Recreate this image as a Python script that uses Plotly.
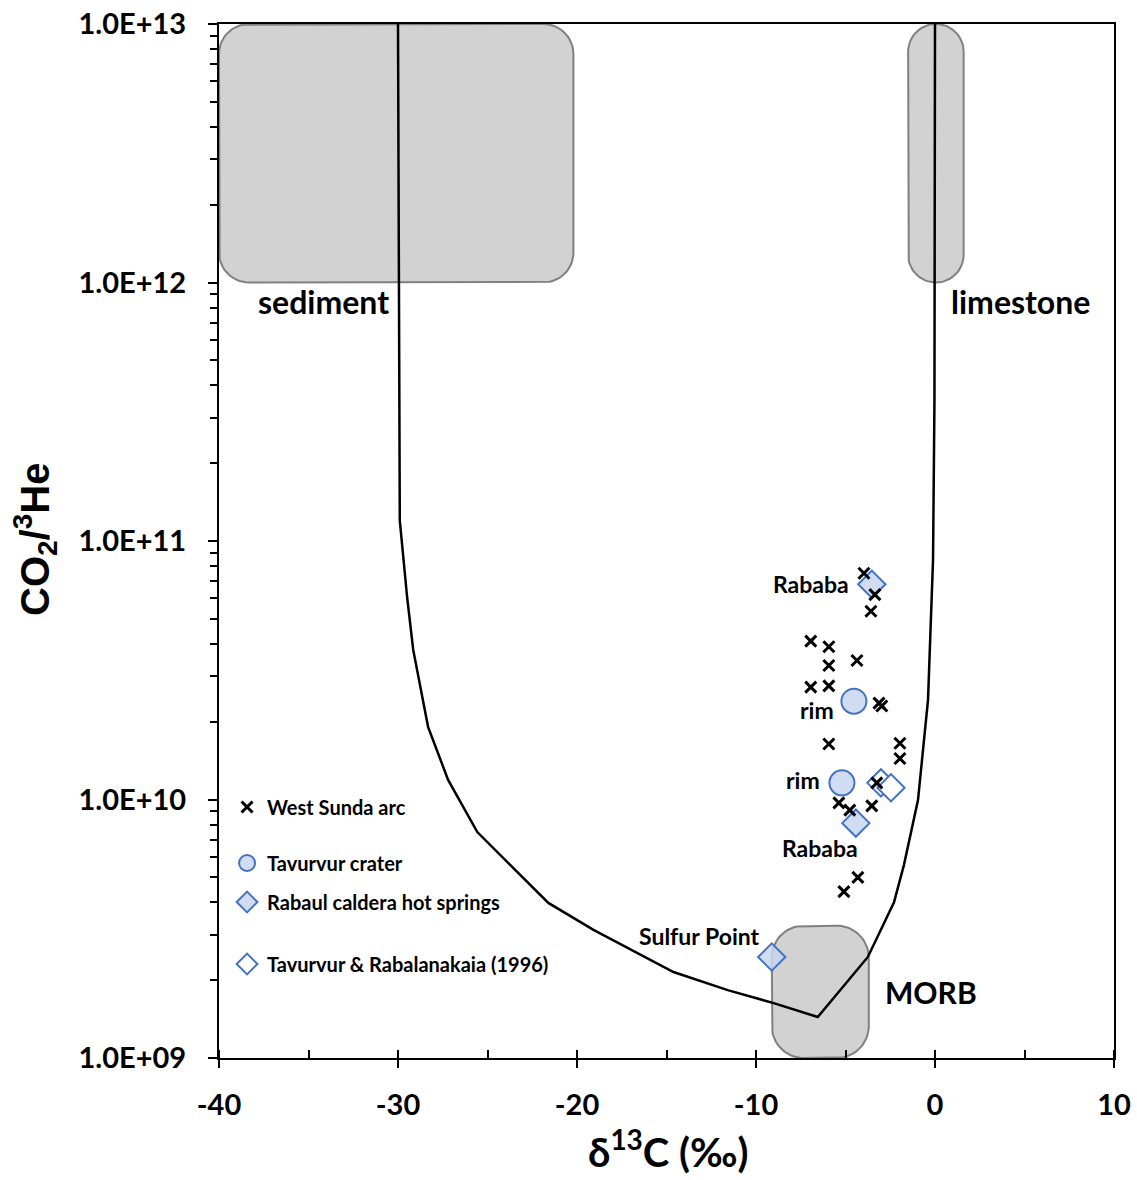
import numpy as np
import plotly.graph_objects as go

# ---------------- data ----------------
west_sunda_d13C = [-3.97, -3.36, -3.58, -6.94, -5.93, -5.93, -4.36, -6.94, -5.93, -3.13,
                   -2.97, -5.93, -1.96, -1.96, -3.25, -5.37, -4.76, -3.53, -4.31, -5.09]
west_sunda_co2he = [7.5e10, 6.2e10, 5.35e10, 4.1e10, 3.9e10, 3.3e10, 3.45e10, 2.72e10, 2.75e10, 2.36e10,
                    2.3e10, 1.64e10, 1.65e10, 1.44e10, 1.16e10, 9.7e9, 9.1e9, 9.45e9, 5.0e9, 4.4e9]

tavurvur_d13C = [-4.53, -5.20]
tavurvur_co2he = [2.4e10, 1.16e10]

hotspring_d13C = [-3.53, -4.42, -9.12]
hotspring_co2he = [6.8e10, 8.1e9, 2.46e9]

old1996_d13C = [-3.02, -2.46]
old1996_co2he = [1.16e10, 1.11e10]

mixing_d13C = [-30.0, -29.9, -29.49, -29.15, -28.32, -27.2, -25.57, -21.6, -19.08, -17.18, -14.61,
               -11.58, -9.01, -6.55, -3.75, -2.29, -1.73, -0.95, -0.39, -0.11, -0.03, 0.0]
mixing_co2he = [1e13, 1.2e11, 6.07e10, 3.79e10, 1.91e10, 1.19e10, 7.48e9, 3.98e9, 3.13e9, 2.67e9, 2.15e9,
                1.83e9, 1.63e9, 1.44e9, 2.46e9, 4.0e9, 5.6e9, 9.95e9, 2.43e10, 8.45e10, 3.5e11, 1e13]

# end-member fields: [d13C min, d13C max, CO2/3He min, CO2/3He max]
sediment_field = [-40.0, -20.2, 1e12, 1e13]
limestone_field = [-1.5, 1.6, 1e12, 1e13]
morb_field = [-9.12, -3.7, 1e9, 3.25e9]

x_tick_vals = [-40, -30, -20, -10, 0, 10]
x_tick_text = ["-40", "-30", "-20", "-10", "0", "10"]
y_tick_vals = [1e9, 1e10, 1e11, 1e12, 1e13]
y_tick_text = ["1.0E+09", "1.0E+10", "1.0E+11", "1.0E+12", "1.0E+13"]

# ---------------- layout constants ----------------
W, H = 1137, 1180
ML, MR, MT, MB = 219, 23, 24, 122
PW, PH = W - ML - MR, H - MT - MB
X_RANGE = [-40, 10]
Y_RANGE_LOG = [9, 13]
SX = PW / (X_RANGE[1] - X_RANGE[0])
SY = PH / (Y_RANGE_LOG[1] - Y_RANGE_LOG[0])

FONT = "Lato"
BLUE = "#4472C4"
LIGHT = "rgba(200,214,238,0.85)"


def rounded_box(box, r):
    x0, x1, y0, y1 = box
    X0 = (x0 - X_RANGE[0]) * SX
    X1 = (x1 - X_RANGE[0]) * SX
    Y0 = (np.log10(y0) - Y_RANGE_LOG[0]) * SY
    Y1 = (np.log10(y1) - Y_RANGE_LOG[0]) * SY
    r = min(r, (X1 - X0) / 2, (Y1 - Y0) / 2)
    pts = []
    for cx, cy, a0 in [(X1 - r, Y1 - r, 0), (X0 + r, Y1 - r, 90),
                       (X0 + r, Y0 + r, 180), (X1 - r, Y0 + r, 270)]:
        t = np.radians(np.linspace(a0, a0 + 90, 16))
        for tt in t:
            pts.append((cx + r * np.cos(tt), cy + r * np.sin(tt)))
    pts.append(pts[0])
    xs = [p[0] / SX + X_RANGE[0] for p in pts]
    ys = [10 ** (p[1] / SY + Y_RANGE_LOG[0]) for p in pts]
    return xs, ys


fig = go.Figure()

for box, r in [(sediment_field, 30), (limestone_field, 28), (morb_field, 32)]:
    bx, by = rounded_box(box, r)
    fig.add_trace(go.Scatter(x=bx, y=by, mode="lines", fill="toself",
                             fillcolor="#d2d2d2", line=dict(color="#808080", width=2),
                             showlegend=False, hoverinfo="skip"))

fig.add_trace(go.Scatter(x=mixing_d13C, y=mixing_co2he, mode="lines",
                         line=dict(color="black", width=2.5), showlegend=False, hoverinfo="skip"))

fig.add_trace(go.Scatter(x=old1996_d13C, y=old1996_co2he, mode="markers",
                         name="Tavurvur & Rabalanakaia (1996)", legend="legend4",
                         marker=dict(symbol="diamond", size=21, color="white",
                                     line=dict(color=BLUE, width=2))))
fig.add_trace(go.Scatter(x=hotspring_d13C, y=hotspring_co2he, mode="markers",
                         name="Rabaul caldera hot springs", legend="legend3",
                         marker=dict(symbol="diamond", size=21, color=LIGHT,
                                     line=dict(color=BLUE, width=2))))
fig.add_trace(go.Scatter(x=tavurvur_d13C, y=tavurvur_co2he, mode="markers",
                         name="Tavurvur crater", legend="legend2",
                         marker=dict(symbol="circle", size=25, color=LIGHT,
                                     line=dict(color=BLUE, width=2))))
fig.add_trace(go.Scatter(x=west_sunda_d13C, y=west_sunda_co2he, mode="markers",
                         name="West Sunda arc", legend="legend",
                         marker=dict(symbol="x-thin", size=11, color="black",
                                     line=dict(color="black", width=3))))


def lab(text, x, ylog, size, **kw):
    fig.add_annotation(x=x, y=ylog, xref="x", yref="y", text=text, showarrow=False,
                       xanchor="center", yanchor="middle",
                       font=dict(family=FONT, size=size, color="black", weight="bold"), **kw)


lab("sediment", -34.19, 11.925, 32)
lab("limestone", 4.76, 11.925, 32)
lab("MORB", -0.22, 9.255, 30)
lab("Rababa", -6.94, 10.834, 23)
lab("rim", -6.60, 10.346, 23)
lab("rim", -7.39, 10.075, 23)
lab("Rababa", -6.44, 9.812, 23)
lab("Sulfur Point", -13.15, 9.472, 23)

# axis titles
fig.add_annotation(x=(35 - ML) / PW, y=(1058 - 540) / PH, xref="paper", yref="paper",
                   xanchor="center", yanchor="middle", textangle=-90, showarrow=False,
                   text="CO<sub>2</sub>/<sup>3</sup>He",
                   font=dict(family="Liberation Sans", size=40, color="black", weight="bold"))
fig.add_annotation(x=(668 - ML) / PW, y=(1058 - 1178) / PH, xref="paper", yref="paper",
                   xanchor="center", yanchor="bottom", showarrow=False,
                   text="δ<sup>13</sup>C (‰)",
                   font=dict(family=FONT, size=40, color="black", weight="bold"))

leg_font = dict(family=FONT, size=20, color="black", weight="bold")
leg_common = dict(xanchor="left", yanchor="middle", bgcolor="rgba(0,0,0,0)",
                  font=leg_font, itemsizing="trace", borderwidth=0)
leg_x = 0.009
axis_font = dict(family=FONT, size=29, color="black", weight="bold")

fig.update_layout(
    width=W, height=H,
    margin=dict(l=ML, r=MR, t=MT, b=MB, autoexpand=False),
    paper_bgcolor="white", plot_bgcolor="white",
    showlegend=True,
    legend=dict(x=leg_x, y=(1058 - 807) / PH, **leg_common),
    legend2=dict(x=leg_x, y=(1058 - 863) / PH, **leg_common),
    legend3=dict(x=leg_x, y=(1058 - 902) / PH, **leg_common),
    legend4=dict(x=leg_x, y=(1058 - 964) / PH, **leg_common),
    xaxis=dict(range=X_RANGE, tickvals=x_tick_vals, ticktext=x_tick_text, ticks="outside",
               ticklen=8, tickwidth=2, automargin=False,
               tickcolor="black", showline=True, linecolor="black", linewidth=2, mirror=True,
               showgrid=False, zeroline=False, tickfont=axis_font, ticklabelstandoff=12,
               minor=dict(dtick=5, ticks="inside", ticklen=8, tickwidth=2, tickcolor="black",
                          showgrid=False)),
    xaxis2=dict(range=X_RANGE, overlaying="x", side="bottom", anchor="y", tickvals=x_tick_vals,
                ticks="inside", ticklen=8, tickwidth=2, tickcolor="black", showticklabels=False,
                automargin=False, showline=False, showgrid=False, zeroline=False),
    yaxis=dict(type="log", range=Y_RANGE_LOG, tickvals=y_tick_vals, ticktext=y_tick_text,
               ticks="outside", ticklen=9, tickwidth=2, tickcolor="black", automargin=False,
               showline=True, linecolor="black", linewidth=2, mirror=True,
               showgrid=False, zeroline=False, tickfont=axis_font, ticklabelstandoff=16,
               minor=dict(tickvals=[m * 10 ** e for e in range(9, 13) for m in range(2, 10)],
                          ticks="outside", ticklen=7, tickwidth=2, tickcolor="black",
                          showgrid=False)),
    yaxis2=dict(type="log", range=Y_RANGE_LOG, overlaying="y", side="left", anchor="x",
                tickvals=y_tick_vals, ticks="inside", ticklen=9, tickwidth=2, tickcolor="black",
                automargin=False, showticklabels=False, showline=False, showgrid=False,
                zeroline=False),
)

fig.write_html("out.html", config={"displayModeBar": False},
               post_script="document.body.style.margin='0';document.body.style.overflow='hidden';")
